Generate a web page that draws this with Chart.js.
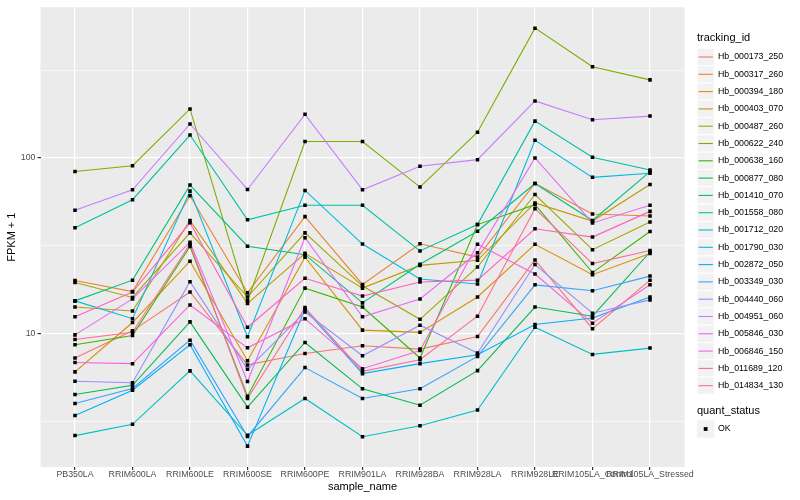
<!DOCTYPE html>
<html>
<head>
<meta charset="utf-8">
<script src="https://cdn.jsdelivr.net/npm/chart.js@4.4.0/dist/chart.umd.min.js"></script>
<style>
  html, body { margin: 0; padding: 0; background: #fff; }
  #chart { display: block; }
</style>
</head>
<body>
<canvas id="chart" width="800" height="500"></canvas>
<script>
const sampleNames = ['PB350LA', 'RRIM600LA', 'RRIM600LE', 'RRIM600SE', 'RRIM600PE', 'RRIM901LA',
    'RRIM928BA', 'RRIM928LA', 'RRIM928LE', 'RRIM105LA_Control', 'RRIM105LA_Stressed'];

const trackingIds = ['Hb_000173_250', 'Hb_000317_260', 'Hb_000394_180', 'Hb_000403_070', 'Hb_000487_260',
    'Hb_000622_240', 'Hb_000638_160', 'Hb_000877_080', 'Hb_001410_070', 'Hb_001558_080',
    'Hb_001712_020', 'Hb_001790_030', 'Hb_002872_050', 'Hb_003349_030', 'Hb_004440_060',
    'Hb_004951_060', 'Hb_005846_030', 'Hb_006846_150', 'Hb_011689_120', 'Hb_014834_130'];

const quantStatus = ['OK'];

// FPKM + 1, one value per sample (same order as sampleNames)
const hb_000173_250 = [7.29, 10.4, 17.3, 6.66, 7.74, 8.55, 8.19, 9.65, 26.3, 10.7, 20.2];
const hb_000317_260 = [20.1, 17.4, 61.0, 17.1, 46.4, 19.1, 32.5, 27.3, 71.6, 48.0, 46.8];
const hb_000394_180 = [6.08, 11.6, 25.9, 7.04, 27.3, 10.5, 10.2, 16.2, 32.3, 21.7, 28.6];
const hb_000403_070 = [14.2, 13.5, 44.1, 14.9, 28.7, 18.2, 24.5, 26.2, 55.5, 43.8, 70.7];
const hb_000487_260 = [19.6, 16.1, 37.5, 16.2, 37.5, 18.7, 12.1, 24.0, 62.0, 30.1, 43.3];
const hb_000622_240 = [83.7, 90.4, 190, 15.4, 124, 124, 68.3, 140, 547, 330, 278];
const hb_000638_160 = [8.67, 9.78, 31.4, 4.42, 18.2, 14.2, 7.29, 41.8, 54.3, 22.3, 38.2];
const hb_000877_080 = [4.52, 5.10, 11.7, 3.83, 8.93, 4.87, 3.93, 6.18, 14.2, 12.6, 29.2];
const hb_001410_070 = [15.4, 20.2, 70.1, 31.5, 28.2, 15.0, 24.9, 38.3, 71.6, 44.1, 83.7];
const hb_001558_080 = [40.1, 57.9, 135, 44.5, 53.8, 53.8, 29.6, 41.8, 162, 101, 85.5];
const hb_001712_020 = [2.64, 3.06, 6.16, 2.65, 4.29, 2.60, 3.00, 3.69, 10.9, 7.64, 8.30];
const hb_001790_030 = [15.4, 12.2, 64.8, 9.62, 65.4, 32.4, 20.5, 19.2, 126, 77.6, 81.9];
const hb_002872_050 = [3.43, 4.78, 8.67, 2.30, 13.8, 5.94, 6.77, 7.61, 11.3, 12.3, 16.2];
const hb_003349_030 = [4.02, 4.89, 9.21, 2.61, 6.43, 4.29, 4.87, 7.44, 19.0, 17.6, 21.3];
const hb_004440_060 = [5.38, 5.27, 19.8, 6.29, 13.3, 7.51, 11.2, 7.78, 24.8, 13.1, 15.6];
const hb_004951_060 = [50.4, 65.9, 156, 66.2, 177, 65.9, 89.8, 97.8, 211, 165, 173];
const hb_005846_030 = [9.87, 15.8, 33.2, 5.36, 35.2, 12.5, 15.8, 28.9, 100, 42.7, 53.8];
const hb_006846_150 = [6.88, 6.77, 14.6, 8.33, 12.2, 6.34, 8.05, 32.3, 21.9, 11.5, 19.0];
const hb_011689_120 = [12.5, 17.3, 42.8, 10.9, 20.7, 16.4, 19.7, 20.2, 39.6, 35.5, 49.7];
const hb_014834_130 = [9.29, 10.2, 32.3, 4.29, 14.1, 6.12, 7.13, 12.6, 51.5, 25.1, 29.8];

const seriesValues = [hb_000173_250, hb_000317_260, hb_000394_180, hb_000403_070, hb_000487_260,
    hb_000622_240, hb_000638_160, hb_000877_080, hb_001410_070, hb_001558_080,
    hb_001712_020, hb_001790_030, hb_002872_050, hb_003349_030, hb_004440_060,
    hb_004951_060, hb_005846_030, hb_006846_150, hb_011689_120, hb_014834_130];

const yMajorTicks = [10, 100];
const yMinorTicks = [3.162, 31.62, 316.2];

// ggplot hue palette, 20 levels
const lineColors = ['#F8766D', '#EA8331', '#D89000', '#C09B00', '#A3A500', '#7CAE00', '#39B600', '#00BB4E',
    '#00BF7D', '#00C1A3', '#00BFC4', '#00BAE0', '#00B0F6', '#35A2FF', '#9590FF', '#C77CFF',
    '#E76BF3', '#FA62DB', '#FF62BC', '#FF6C91'];

const FONT = "'Liberation Sans', Arial, sans-serif";

const datasets = seriesValues.map((values, i) => ({
    label: trackingIds[i],
    data: values.map((v, j) => ({ x: j + 1, y: v })),
    borderColor: lineColors[i],
    borderWidth: 1.1,
    pointRadius: 0,
    fill: false,
    tension: 0,
    order: seriesValues.length - i
}));

// puntos negros encima de todas las lineas
datasets.push({
    label: quantStatus[0],
    type: 'scatter',
    data: seriesValues.flatMap(values => values.map((v, j) => ({ x: j + 1, y: v }))),
    pointStyle: 'rect',
    pointRadius: 2.5,
    pointBackgroundColor: '#000',
    pointBorderWidth: 0,
    showLine: false,
    order: 0
});

const panelPlugin = {
    id: 'panel',
    beforeDraw(chart) {
        const { ctx, chartArea: a } = chart;
        ctx.save();
        ctx.fillStyle = '#EBEBEB';
        ctx.fillRect(a.left, a.top, a.right - a.left, a.bottom - a.top);
        ctx.restore();
    },
    afterDraw(chart) {
        const { ctx, chartArea: a } = chart;
        ctx.save();
        ctx.fillStyle = '#000';
        ctx.textBaseline = 'middle';

        // titulos de ejes
        ctx.font = '11px ' + FONT;
        ctx.textAlign = 'center';
        ctx.fillText('sample_name', (a.left + a.right) / 2, 487);
        ctx.save();
        ctx.translate(12, (a.top + a.bottom) / 2);
        ctx.rotate(-Math.PI / 2);
        ctx.fillText('FPKM + 1', 0, 0);
        ctx.restore();

        // leyenda tracking_id
        ctx.textAlign = 'left';
        ctx.fillText('tracking_id', 697, 38);
        const keyX = 697, keySize = 17.3;
        trackingIds.forEach((id, i) => {
            const cy = 57 + i * keySize;
            ctx.fillStyle = '#F2F2F2';
            ctx.fillRect(keyX, cy - keySize / 2, keySize, keySize);
            ctx.strokeStyle = '#fff';
            ctx.lineWidth = 1;
            ctx.strokeRect(keyX, cy - keySize / 2, keySize, keySize);
            ctx.strokeStyle = lineColors[i];
            ctx.lineWidth = 1.1;
            ctx.beginPath();
            ctx.moveTo(keyX + 1.5, cy);
            ctx.lineTo(keyX + keySize - 1.5, cy);
            ctx.stroke();
            ctx.fillStyle = '#000';
            ctx.font = '8.8px ' + FONT;
            ctx.fillText(id, 718, cy);
        });

        // leyenda quant_status
        ctx.font = '11px ' + FONT;
        ctx.fillText('quant_status', 697, 411);
        quantStatus.forEach((s, i) => {
            const cy = 429 + i * keySize;
            ctx.fillStyle = '#F2F2F2';
            ctx.fillRect(keyX, cy - keySize / 2, keySize, keySize);
            ctx.fillStyle = '#000';
            ctx.fillRect(keyX + keySize / 2 - 1.9, cy - 1.9, 3.8, 3.8);
            ctx.font = '8.8px ' + FONT;
            ctx.fillText(s, 718, cy);
        });
        ctx.restore();
    }
};

const isMajor = v => yMajorTicks.some(m => Math.abs(m - v) < 1e-6);

new Chart(document.getElementById('chart'), {
    type: 'line',
    data: { datasets },
    options: {
        responsive: false,
        animation: false,
        layout: { padding: { left: 0, right: 115.5, top: 5, bottom: 0 } },
        plugins: {
            legend: { display: false },
            tooltip: { enabled: false }
        },
        scales: {
            x: {
                type: 'linear',
                min: 0.4,
                max: 11.6,
                afterBuildTicks: s => { s.ticks = sampleNames.map((_, i) => ({ value: i + 1 })); },
                afterFit: s => { s.height = 33; },
                ticks: {
                    autoSkip: false,
                    maxRotation: 0,
                    padding: -1,
                    color: '#4D4D4D',
                    font: { family: FONT, size: 8.8 },
                    callback: v => sampleNames[Math.round(v) - 1]
                },
                grid: { color: '#fff', lineWidth: 1.2, tickLength: 3, tickColor: '#333' },
                border: { display: false }
            },
            y: {
                type: 'logarithmic',
                min: 1.75,
                max: 719,
                afterBuildTicks: s => {
                    s.ticks = yMinorTicks.concat(yMajorTicks).sort((a, b) => a - b).map(v => ({ value: v }));
                },
                afterFit: s => { s.width = 40.5; },
                ticks: {
                    padding: 2,
                    color: '#4D4D4D',
                    font: { family: FONT, size: 8.8 },
                    callback: v => isMajor(v) ? String(v) : ''
                },
                grid: {
                    color: '#fff',
                    lineWidth: c => (c.tick && isMajor(c.tick.value)) ? 1.2 : 0.6,
                    tickLength: 3,
                    tickColor: c => (c.tick && isMajor(c.tick.value)) ? '#333' : 'rgba(0,0,0,0)'
                },
                border: { display: false }
            }
        }
    },
    plugins: [panelPlugin]
});
</script>
</body>
</html>
